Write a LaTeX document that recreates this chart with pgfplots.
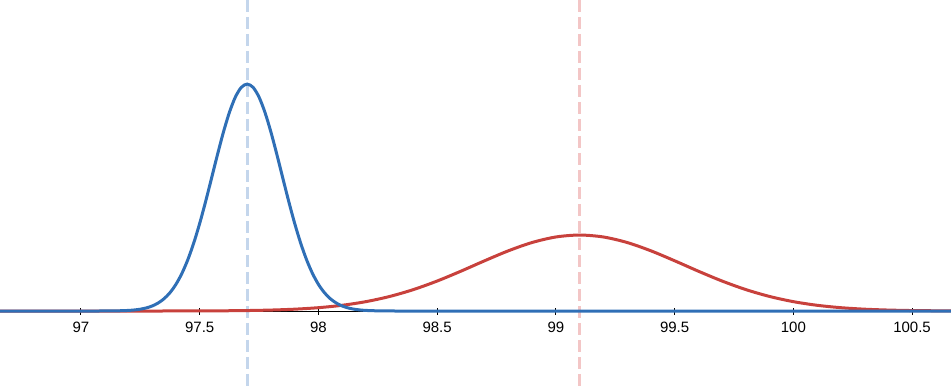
\documentclass[border=0pt]{standalone}
\usepackage{pgfplots}
\pgfplotsset{compat=1.18}
\usepackage{fontspec}
\setmainfont{Liberation Sans}
\definecolor{cblue}{RGB}{47,111,182}
\definecolor{cred}{RGB}{200,65,60}
\definecolor{lblue}{RGB}{196,214,236}
\definecolor{lred}{RGB}{243,198,198}
\begin{document}
\begin{tikzpicture}
\begin{axis}[scale only axis, width=475.5pt, height=194.5pt,
  xmin=96.659, xmax=100.664, ymin=-0.945, ymax=3.770,
  axis x line=middle, axis y line=none,
  x axis line style={-, black, line width=0.5pt},
  xtick={97,97.5,98,98.5,99,99.5,100,100.5},
  xticklabels={97,97.5,98,98.5,99,99.5,100,100.5},
  tick style={black, line width=0.5pt},
  tick align=center, major tick length=3.5pt,
  xticklabel style={font=\fontsize{7.5}{9}\selectfont, text=black},
  ytick=\empty,
]
\addplot[lblue, line width=1.5pt, dash pattern=on 6pt off 2.5pt] coordinates {(97.7,3.770) (97.7,-0.945)};
\addplot[lred, line width=1.5pt, dash pattern=on 6pt off 2.5pt] coordinates {(99.1,3.770) (99.1,-0.945)};
% red curve (mean 99.1)
\addplot[cred, line width=1.5pt, smooth] coordinates {
(96.659,0) (97.0,0) (97.1,0.0001) (97.2,0.0002) (97.3,0.0002) (97.4,0.0005) (97.5,0.0012) (97.6,0.0028) (97.7,0.0058) (97.8,0.0117)
(97.9,0.0223) (98.0,0.0405) (98.1,0.0696) (98.2,0.1137) (98.3,0.1764) (98.4,0.2598) (98.5,0.3635)
(98.6,0.4829) (98.7,0.6093) (98.8,0.7300) (98.9,0.8306) (99.0,0.8975) (99.1,0.921)
(99.2,0.8975) (99.3,0.8306) (99.4,0.7300) (99.5,0.6093) (99.6,0.4829) (99.7,0.3635)
(99.8,0.2598) (99.9,0.1764) (100.0,0.1137) (100.1,0.0696) (100.2,0.0405) (100.3,0.0223)
(100.4,0.0117) (100.5,0.0058) (100.6,0.0028) (100.664,0.0016)
};
% blue curve (mean 97.7)
\addplot[cblue, line width=1.5pt, smooth] coordinates {
(96.659,0) (96.9,0) (97.0,0) (97.1,0.0005) (97.15,0.0021) (97.2,0.0072) (97.225,0.0129) (97.25,0.0223) (97.275,0.0375)
(97.3,0.0612) (97.325,0.0971) (97.35,0.1494) (97.375,0.2232) (97.4,0.3236) (97.425,0.4555)
(97.45,0.6223) (97.475,0.8253) (97.5,1.0626) (97.525,1.3281) (97.55,1.6111) (97.575,1.8972)
(97.6,2.1688) (97.625,2.4066) (97.65,2.5922) (97.675,2.7104) (97.7,2.751)
(97.725,2.7104) (97.75,2.5922) (97.775,2.4066) (97.8,2.1688) (97.825,1.8972) (97.85,1.6111)
(97.875,1.3281) (97.9,1.0626) (97.925,0.8253) (97.95,0.6223) (97.975,0.4555) (98.0,0.3236)
(98.025,0.2232) (98.05,0.1494) (98.075,0.0971) (98.1,0.0612) (98.125,0.0375) (98.15,0.0223)
(98.175,0.0129) (98.2,0.0072) (98.25,0.0021) (98.3,0.0005) (98.4,0) (98.6,0) (100.664,0)
};
\end{axis}
\pgfresetboundingbox
\path (current axis.south west) rectangle (current axis.north east);
\end{tikzpicture}
\end{document}
